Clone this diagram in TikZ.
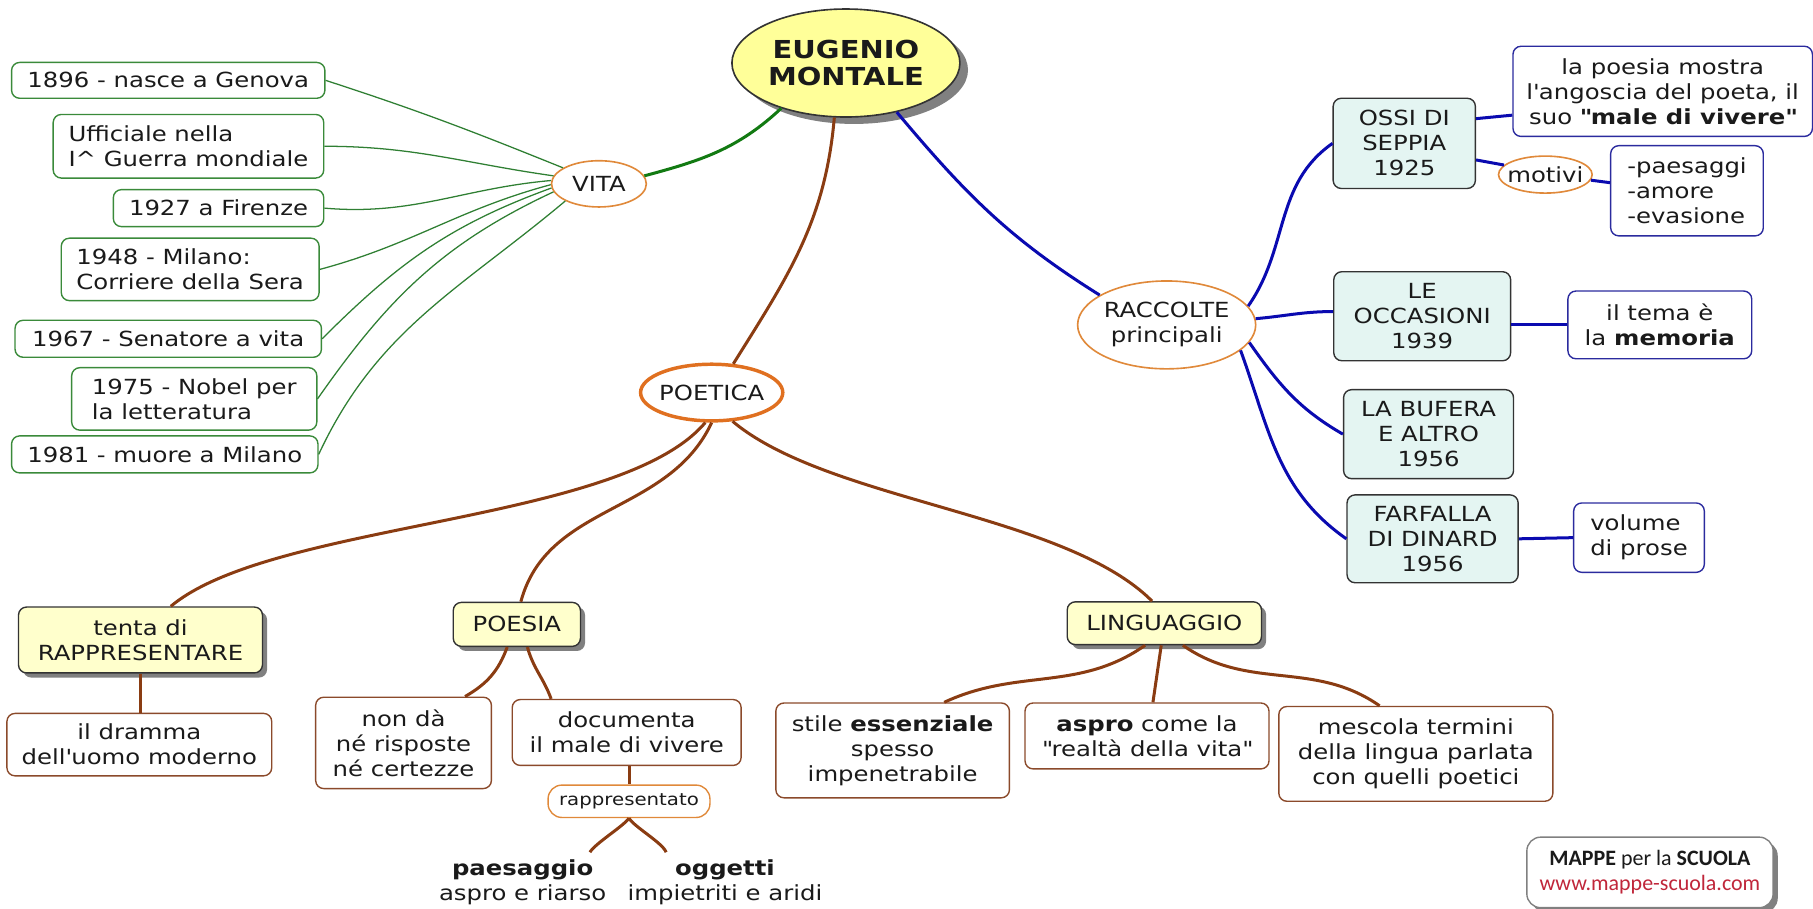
\documentclass[tikz,border=0pt]{standalone}
\usepackage{fontspec}
\setmainfont{DejaVu Sans}[FakeStretch=1.17]
\newfontfamily\mappefont{Carlito}
\usetikzlibrary{shapes, shadows}

\definecolor{lifegreen}{HTML}{3A8A3A}
\definecolor{linkgreen}{HTML}{2F7F33}
\definecolor{stemgreen}{HTML}{127A12}
\definecolor{linkblue}{HTML}{0A0AB0}
\definecolor{noteblue}{HTML}{2B2B9E}
\definecolor{linkbrown}{HTML}{8A3C12}
\definecolor{boxbrown}{HTML}{8B4A2B}
\definecolor{topicorange}{HTML}{E0893A}
\definecolor{poeticaorange}{HTML}{E07020}
\definecolor{centeryellow}{HTML}{FFFF99}
\definecolor{themeyellow}{HTML}{FFFFCC}
\definecolor{bookcyan}{HTML}{E4F5F2}
\definecolor{darkline}{HTML}{333333}
\definecolor{textdark}{HTML}{1A1A1A}
\definecolor{mapred}{HTML}{C0263A}
\definecolor{shadowgray}{HTML}{808080}

\tikzset{
	roundbox/.style={rectangle, rounded corners=3.5pt, line width=0.6pt, fill=white},
	lifebox/.style={roundbox, draw=lifegreen},
	bookbox/.style={roundbox, draw=darkline, fill=bookcyan},
	notebox/.style={roundbox, draw=noteblue},
	themebox/.style={roundbox, draw=darkline, fill=themeyellow, drop shadow={shadow xshift=2pt, shadow yshift=-2pt, fill=shadowgray, opacity=1}},
	ideabox/.style={roundbox, draw=boxbrown},
	topic/.style={ellipse, draw=topicorange, line width=0.7pt, fill=white, inner sep=0pt},
	lifeline/.style={draw=linkgreen, line width=0.55pt},
	stemline/.style={draw=stemgreen, line width=1.3pt},
	bookline/.style={draw=linkblue, line width=1.3pt},
	idealine/.style={draw=linkbrown, line width=1.3pt}
}

\begin{document}
\begin{tikzpicture}[x=0.5pt, y=-0.5pt, every node/.style={font=\fontsize{9}{10.8}\selectfont, text=textdark, align=center, inner sep=2pt}]
		\useasboundingbox (0,0) rectangle (1568,786);
		\node at (731.6,54.5) [ellipse, draw=darkline, line width=0.7pt, fill=centeryellow, inner sep=0pt, minimum width=98.6pt, minimum height=46.7pt, drop shadow={shadow xshift=3.5pt, shadow yshift=-3pt, fill=shadowgray, opacity=1}, font=\bfseries\fontsize{10.7}{11.7}\selectfont] (eugenio) {EUGENIO\\MONTALE};
		\node at (518,159) [topic, minimum width=41pt, minimum height=20pt] (vita) {VITA};
		\node at (145.5,69.5) [lifebox, minimum width=135.5pt, minimum height=15.5pt] (n1896) {1896 - nasce a Genova};
		\node at (163,126.5) [lifebox, align=left, minimum width=117pt, minimum height=27.5pt] (nuff) {Ufficiale nella\\I\textasciicircum{} Guerra mondiale};
		\node at (189,180) [lifebox, minimum width=91pt, minimum height=16pt] (n1927) {1927 a Firenze};
		\node at (164.5,233) [lifebox, align=left, minimum width=111.5pt, minimum height=27pt] (n1948) {1948 - Milano:\\Corriere della Sera};
		\node at (145.5,293) [lifebox, minimum width=132.5pt, minimum height=16pt] (n1967) {1967 - Senatore a vita};
		\node at (168,345) [lifebox, align=left, minimum width=106pt, minimum height=27pt] (n1975) {1975 - Nobel per\\la letteratura};
		\node at (142.5,393) [lifebox, minimum width=132.5pt, minimum height=16pt] (n1981) {1981 - muore a Milano};
		\node at (1009,281) [topic, inner xsep=-1pt, minimum width=77pt, minimum height=38pt] (raccolte) {RACCOLTE\\principali};
		\node at (1214.5,124) [bookbox, minimum width=61.5pt, minimum height=39pt] (ossi) {OSSI DI\\SEPPIA\\1925};
		\node at (1438,79) [notebox, minimum width=129.5pt, minimum height=39pt] (angoscia) {la poesia mostra\\l\textquotesingle angoscia del poeta, il\\suo \textbf{\textquotedbl male di vivere\textquotedbl}};
		\node at (1336.5,151) [topic, inner xsep=-2.2pt, inner ysep=1pt, minimum width=40.5pt, minimum height=16pt] (motivi) {motivi};
		\node at (1459,165) [notebox, align=left, minimum width=66pt, minimum height=39pt] (temi) {-paesaggi\\-amore\\-evasione};
		\node at (1230,273.5) [bookbox, minimum width=76.5pt, minimum height=38.5pt] (leocc) {LE\\OCCASIONI\\1939};
		\node at (1435.5,281) [notebox, minimum width=79.5pt, minimum height=29.3pt] (tema) {il tema è\\la \textbf{memoria}};
		\node at (1235.5,375.5) [bookbox, minimum width=73.5pt, minimum height=38.5pt] (bufera) {LA BUFERA\\E ALTRO\\1956};
		\node at (1239,466) [bookbox, minimum width=74pt, minimum height=38pt] (farfalla) {FARFALLA\\DI DINARD\\1956};
		\node at (1417.5,465) [notebox, align=left, minimum width=56.5pt, minimum height=30pt] (volume) {volume\\di prose};
		\node at (615.5,339.5) [topic, draw=poeticaorange, line width=1.5pt, inner xsep=-1pt, minimum width=61.5pt, minimum height=24.5pt] (poetica) {POETICA};
		\node at (121.5,553.5) [themebox, minimum width=105.5pt, minimum height=28.5pt] (tenta) {tenta di\\RAPPRESENTARE};
		\node at (447,540) [themebox, minimum width=55pt, minimum height=19pt] (poesia) {POESIA};
		\node at (1007,539) [themebox, minimum width=84pt, minimum height=18.5pt] (ling) {LINGUAGGIO};
		\node at (120.5,644) [ideabox, minimum width=114.5pt, minimum height=27pt] (dramma) {il dramma\\dell\textquotesingle uomo moderno};
		\node at (349,642.5) [ideabox, minimum width=76pt, minimum height=39.5pt] (nonda) {non dà\\né risposte\\né certezze};
		\node at (542,633.5) [ideabox, minimum width=99pt, minimum height=28.5pt] (documenta) {documenta\\il male di vivere};
		\node at (544,693) [roundbox, draw=topicorange, rounded corners=6pt, font=\fontsize{7.3}{8}\selectfont, minimum width=70pt, minimum height=14pt] (rappr) {rappresentato};
		\node at (452,763) [inner sep=3pt] (paesaggio) {\textbf{paesaggio}\\aspro e riarso};
		\node at (627,763) [inner sep=3pt] (oggetti) {\textbf{oggetti}\\impietriti e aridi};
		\node at (772,649) [ideabox, minimum width=101pt, minimum height=41pt] (stile) {stile \textbf{essenziale}\\spesso\\impenetrabile};
		\node at (992,636.5) [ideabox, minimum width=105.5pt, minimum height=28.5pt] (aspro) {\textbf{aspro} come la\\\textquotedbl realtà della vita\textquotedbl};
		\node at (1224.5,652) [ideabox, minimum width=118.5pt, minimum height=41pt] (mescola) {mescola termini\\della lingua parlata\\con quelli poetici};
		\node at (1427,754.5) [roundbox, draw=gray, rounded corners=6pt, drop shadow={shadow xshift=2pt, shadow yshift=-2pt, fill=shadowgray, opacity=1}, font=\mappefont\fontsize{9.5}{11}\selectfont, minimum width=106.5pt, minimum height=30.5pt] (mappe) {\textbf{MAPPE} per la \textbf{SCUOLA}\\\textcolor{mapred}{www.mappe-scuola.com}};
		\draw[lifeline] (n1896.east) to[out=-18, in=158] (vita.156);
		\draw[lifeline] (nuff.east) to[out=0, in=172] (vita.170);
		\draw[lifeline] (n1927.east) to[out=-5, in=185] (vita.176);
		\draw[lifeline] (n1948.east) to[out=15, in=195] (vita.181);
		\draw[lifeline] (n1967.east) to[out=45, in=200] (vita.185);
		\draw[lifeline] (n1975.east) to[out=55, in=205] (vita.190);
		\draw[lifeline] (n1981.east) to[out=65, in=220] (vita.207);
		\draw[stemline] (eugenio.215) to[out=223, in=15] (vita.10);
		\draw[bookline] (eugenio.316) to[out=-50, in=148] (raccolte.156);
		\draw[bookline] (raccolte.13) to[out=55, in=215] (ossi.west);
		\draw[bookline] (raccolte.4) to[out=5, in=180] (leocc.177);
		\draw[bookline] (raccolte.348) to[out=-55, in=150] (bufera.west);
		\draw[bookline] (raccolte.341) to[out=-70, in=145] (farfalla.west);
		\draw[bookline] (ossi.19) -- (angoscia.189);
		\draw[bookline] (ossi.347) -- (motivi.167);
		\draw[bookline] (motivi.353) -- (temi.174);
		\draw[bookline] (leocc.east |- tema.west) -- (tema.west);
		\draw[bookline] (farfalla.east) -- (volume.west);
		\draw[idealine] (eugenio.258) to[out=265, in=58] (poetica.53);
		\draw[idealine] (poetica.258) to[out=230, in=40, looseness=0.6] (tenta.48);
		\draw[idealine] (poetica.270) to[out=245, in=75] (poesia.80);
		\draw[idealine] (poetica.306) to[out=-40, in=135, looseness=0.7] (ling.119);
		\draw[idealine] (tenta.south) -- (tenta.south |- dramma.north);
		\draw[idealine] (poesia.247) to[out=250, in=30] (nonda.37);
		\draw[idealine] (poesia.295) to[out=-75, in=110] (documenta.156);
		\draw[idealine] (rappr.north |- documenta.south) -- (rappr.north);
		\draw[idealine] (rappr.south) to[out=235, in=60, looseness=0.5] (paesaggio.24);
		\draw[idealine] (rappr.south) to[out=-60, in=110, looseness=0.5] (oggetti.153);
		\draw[idealine] (ling.229) to[out=215, in=25] (stile.43);
		\draw[idealine] (ling.262) -- (aspro.80);
		\draw[idealine] (ling.310) to[out=-35, in=145] (mescola.127);
\end{tikzpicture}
\end{document}
